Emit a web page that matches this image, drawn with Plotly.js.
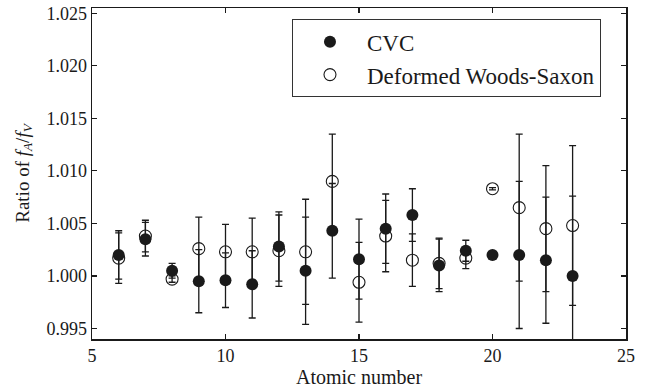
<!DOCTYPE html>
<html>
<head>
<meta charset="utf-8">
<script src="https://cdn.plot.ly/plotly-3.0.1.min.js"></script>
<style>
html,body{margin:0;padding:0;background:#fff;}
#chart{width:647px;height:390px;}
</style>
</head>
<body>
<div id="chart"></div>
<script>
// Atomic numbers
const atomicNumber = [6, 7, 8, 9, 10, 11, 12, 13, 14, 15, 16, 17, 18, 19, 20, 21, 22, 23];
// CVC ratio f_A/f_V and its uncertainty
const cvcRatio = [1.0020, 1.0035, 1.0005, 0.9995, 0.9996, 0.9992, 1.0028, 1.0005, 1.0043, 1.0016, 1.0045, 1.0058, 1.0010, 1.0024, 1.0020, 1.0020, 1.0015, 1.0000];
const cvcError = [0.0023, 0.0016, 0.0007, 0.0030, 0.0026, 0.0032, 0.0033, 0.0051, 0.0045, 0.0038, 0.0033, 0.0025, 0.0025, 0.0010, 0.0002, 0.0070, 0.0060, 0.0076];
// Deformed Woods-Saxon ratio and its uncertainty
const wsRatio = [1.0017, 1.0038, 0.9997, 1.0026, 1.0023, 1.0023, 1.0024, 1.0023, 1.0090, 0.9994, 1.0038, 1.0015, 1.0012, 1.0017, 1.0083, 1.0065, 1.0045, 1.0048];
const wsError = [0.0024, 0.0015, 0.0003, 0.0030, 0.0026, 0.0032, 0.0034, 0.0050, 0.0045, 0.0038, 0.0034, 0.0025, 0.0024, 0.0010, 0.0001, 0.0070, 0.0060, 0.0076];

const xTicks = [5, 10, 15, 20, 25];
const yTicks = [0.995, 1.000, 1.005, 1.010, 1.015, 1.020, 1.025];

const FONT = '"Liberation Serif", "Times New Roman", serif';
const INK = '#1a1a1a';

const traces = [
  {
    x: atomicNumber, y: wsRatio, name: 'Deformed Woods-Saxon',
    type: 'scatter', mode: 'markers',
    legendgroup: 'ws', legendrank: 2,
    marker: {symbol: 'circle-open', size: 12, color: INK, line: {width: 1.1, color: INK}},
    error_y: {type: 'data', array: wsError, visible: true, color: INK, thickness: 1.3, width: 3.5}
  },
  {
    x: atomicNumber, y: cvcRatio, name: 'CVC',
    type: 'scatter', mode: 'markers',
    legendgroup: 'cvc', legendrank: 1,
    marker: {symbol: 'circle', size: 12, color: INK},
    error_y: {type: 'data', array: cvcError, visible: true, color: INK, thickness: 1.3, width: 3.5}
  }
];

const layout = {
  width: 647, height: 390,
  margin: {l: 92, r: 21, t: 8, b: 51, pad: 0},
  paper_bgcolor: '#fff', plot_bgcolor: '#fff',
  font: {family: FONT, color: INK, size: 17},
  showlegend: true,
  legend: {
    x: 0.3745, y: 0.966, xanchor: 'left', yanchor: 'top',
    bordercolor: '#333', borderwidth: 1, bgcolor: '#fff',
    font: {family: FONT, size: 23, color: INK},
    traceorder: 'grouped', tracegroupgap: 0, itemwidth: 64
  },
  xaxis: {
    range: [5, 25], tickvals: xTicks, ticktext: xTicks.map(String),
    ticks: 'inside', ticklen: 5, tickwidth: 1.2, tickcolor: INK,
    showline: true, linecolor: INK, linewidth: 1.5, mirror: 'ticks',
    showgrid: false, zeroline: false,
    tickfont: {family: FONT, size: 18, color: INK},
    title: {text: 'Atomic number', font: {family: FONT, size: 20, color: INK}, standoff: 5}
  },
  yaxis: {
    range: [0.994, 1.0255], tickvals: yTicks, ticktext: yTicks.map(v => v.toFixed(3)),
    ticks: 'inside', ticklen: 5, tickwidth: 1.2, tickcolor: INK,
    showline: true, linecolor: INK, linewidth: 1.5, mirror: 'ticks',
    showgrid: false, zeroline: false,
    tickfont: {family: FONT, size: 18, color: INK},
    title: {text: 'Ratio of <i>f<sub>A</sub></i>/<i>f<sub>V</sub></i>', font: {family: FONT, size: 19, color: INK}, standoff: 12}
  }
};

Plotly.newPlot('chart', traces, layout, {staticPlot: true, displayModeBar: false});
</script>
</body>
</html>
